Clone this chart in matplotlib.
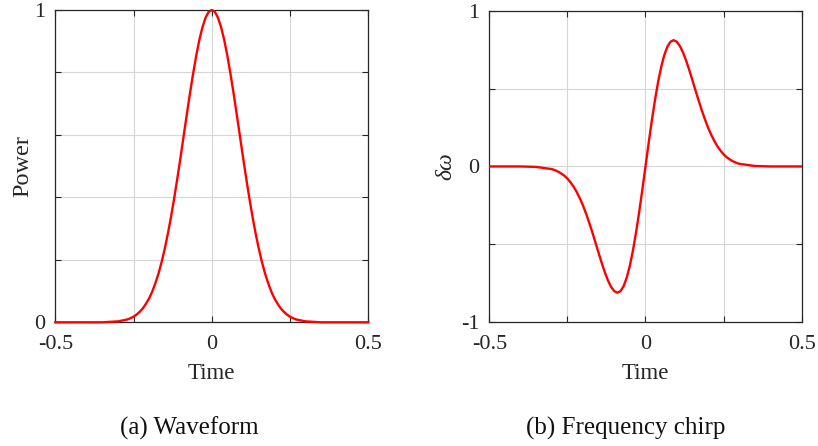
import matplotlib
matplotlib.use("Agg")
import matplotlib.pyplot as plt

plt.rcParams['font.family'] = ['Liberation Serif', 'DejaVu Serif']
plt.rcParams['mathtext.fontset'] = 'custom'
plt.rcParams['mathtext.rm'] = 'Liberation Serif'
plt.rcParams['mathtext.it'] = 'Liberation Serif:italic'

# sample times (denser around the pulse)
time = [
    -0.50, -0.45, -0.40, -0.35,
    -0.30, -0.29, -0.28, -0.27, -0.26, -0.25, -0.24, -0.23, -0.22, -0.21,
    -0.20, -0.19, -0.18, -0.17, -0.16, -0.15, -0.14, -0.13, -0.12, -0.11,
    -0.10, -0.09, -0.08, -0.07, -0.06, -0.05, -0.04, -0.03, -0.02, -0.01,
    0.00,
    0.01, 0.02, 0.03, 0.04, 0.05, 0.06, 0.07, 0.08, 0.09, 0.10,
    0.11, 0.12, 0.13, 0.14, 0.15, 0.16, 0.17, 0.18, 0.19, 0.20,
    0.21, 0.22, 0.23, 0.24, 0.25, 0.26, 0.27, 0.28, 0.29, 0.30,
    0.35, 0.40, 0.45, 0.50,
]

# pulse power (normalised)
power = [
    0.000, 0.000, 0.000, 0.000,
    0.003, 0.005, 0.007, 0.009, 0.013, 0.018, 0.025, 0.034, 0.045, 0.060,
    0.077, 0.099, 0.126, 0.157, 0.194, 0.237, 0.285, 0.339, 0.398, 0.461,
    0.527, 0.596, 0.664, 0.731, 0.794, 0.852, 0.903, 0.944, 0.975, 0.994,
    1.000,
    0.994, 0.975, 0.944, 0.903, 0.852, 0.794, 0.731, 0.664, 0.596, 0.527,
    0.461, 0.398, 0.339, 0.285, 0.237, 0.194, 0.157, 0.126, 0.099, 0.077,
    0.060, 0.045, 0.034, 0.025, 0.018, 0.013, 0.009, 0.007, 0.005, 0.003,
    0.000, 0.000, 0.000, 0.000,
]

# instantaneous frequency shift
chirp = [
    0.000, 0.000, -0.000, -0.003,
    -0.017, -0.024, -0.033, -0.045, -0.059, -0.078, -0.102, -0.130, -0.165, -0.205,
    -0.251, -0.304, -0.362, -0.424, -0.489, -0.555, -0.620, -0.680, -0.732, -0.773,
    -0.800, -0.810, -0.800, -0.768, -0.713, -0.636, -0.538, -0.421, -0.290, -0.148,
    0.000,
    0.148, 0.290, 0.421, 0.538, 0.636, 0.713, 0.768, 0.800, 0.810, 0.800,
    0.773, 0.732, 0.680, 0.620, 0.555, 0.489, 0.424, 0.362, 0.304, 0.251,
    0.205, 0.165, 0.130, 0.102, 0.078, 0.059, 0.045, 0.033, 0.024, 0.017,
    0.003, 0.000, 0.000, 0.000,
]

x_ticks = [-0.5, -0.25, 0, 0.25, 0.5]
x_labels = ['-0.5', '', '0', '', '0.5']
p_ticks = [0, 0.2, 0.4, 0.6, 0.8, 1]
p_labels = ['0', '', '', '', '', '1']
c_ticks = [-1, -0.5, 0, 0.5, 1]
c_labels = ['-1', '', '0', '', '1']

fig = plt.figure(figsize=(8.18, 4.46), dpi=100)
ax1 = fig.add_axes([0.0676, 0.2773, 0.3826, 0.7003])
ax2 = fig.add_axes([0.5982, 0.2773, 0.3818, 0.6990])

txt = '#262626'


def style(ax, yticks, ylabels):
    ax.set_xlim(-0.5, 0.5)
    ax.set_xticks(x_ticks)
    ax.set_xticklabels(x_labels)
    ax.set_yticks(yticks)
    ax.set_yticklabels(ylabels)
    ax.set_ylim(yticks[0], yticks[-1])
    ax.grid(True, color='#d6d6d6', linewidth=0.8)
    ax.set_axisbelow(True)
    ax.tick_params(direction='in', top=True, right=True, length=4,
                   width=0.8, labelsize=16, colors=txt)
    ax.tick_params(axis='x', pad=9)
    ax.tick_params(axis='y', pad=7)
    for s in ax.spines.values():
        s.set_color(txt)
        s.set_linewidth(0.9)
    ax.set_xlabel('Time', fontsize=16.5, color=txt, labelpad=6.5)


ax1.plot(time, power, color='#ff0000', linewidth=1.7, clip_on=False, zorder=3)
style(ax1, p_ticks, p_labels)
ax1.set_ylabel('Power', fontsize=17.5, color=txt, labelpad=1)

ax2.plot(time, chirp, color='#ff0000', linewidth=1.7, zorder=3)
style(ax2, c_ticks, c_labels)
ax2.set_ylabel(r'$\delta\omega$', fontsize=17, color=txt, labelpad=3)

fig.text(0.231, 0.040, '(a) Waveform', ha='center', va='center',
         fontsize=18, color='#111111')
fig.text(0.765, 0.040, '(b) Frequency chirp', ha='center', va='center',
         fontsize=18, color='#111111')

fig.savefig('out.png', dpi=100)
